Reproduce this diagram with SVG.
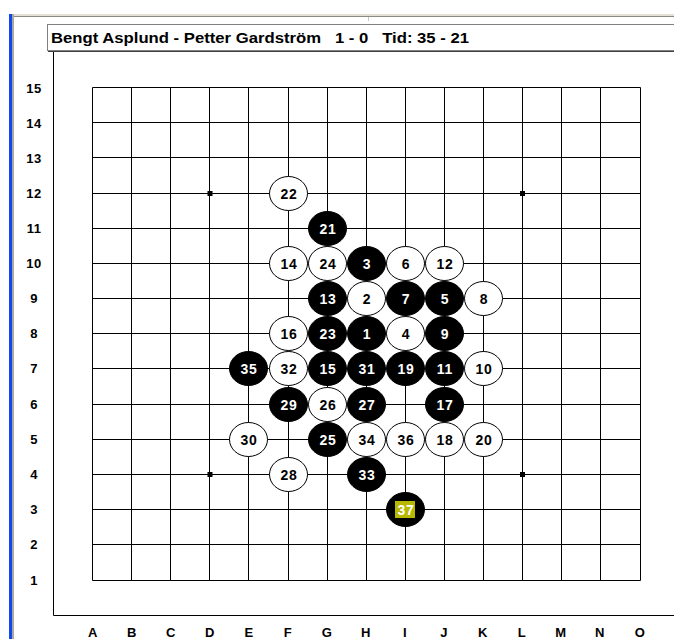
<svg xmlns="http://www.w3.org/2000/svg" width="674" height="639" viewBox="0 0 674 639">
<style>
.lbl{font-family:"Liberation Sans",Arial,sans-serif;font-weight:bold;font-size:13px;fill:#000;letter-spacing:0.5px}
.num{font-family:"Liberation Sans",Arial,sans-serif;font-weight:bold;font-size:14px;text-anchor:middle;letter-spacing:0.8px}
.w ellipse{fill:#fff;stroke:#000;stroke-width:1}
.w text{fill:#000}
.b ellipse{fill:#000;stroke:#000;stroke-width:1}
.b text{fill:#fff}
.grid line{stroke:#000;stroke-width:1}
</style>
<rect width="674" height="639" fill="#fff"/>
<!-- window chrome -->
<rect x="14" y="14" width="660" height="2" fill="#e4e1d4"/>
<rect x="14" y="16" width="660" height="1" fill="#8a8a80"/>
<line x1="368.5" y1="17" x2="368.5" y2="21" stroke="#c8c8c8"/>
<rect x="9" y="14" width="3" height="625" fill="#1048f0"/>
<rect x="12" y="14" width="2" height="625" fill="#a8a8a0"/>
<!-- title box -->
<rect x="47.5" y="24.5" width="640" height="26" fill="#fff" stroke="#808080"/>
<line x1="48" y1="51.5" x2="674" y2="51.5" stroke="#404040"/>
<text x="51" y="43" font-family="'Liberation Sans',Arial,sans-serif" font-weight="bold" font-size="14.5px" fill="#000" xml:space="preserve" textLength="418" lengthAdjust="spacingAndGlyphs">Bengt Asplund - Petter Gardström   1 - 0   Tid: 35 - 21</text>
<!-- panel -->
<polyline points="53.5,52 53.5,615.5 674,615.5" fill="none" stroke="#000"/>
<!-- row labels -->
<g class="lbl" text-anchor="middle">
<text x="34" y="93">15</text><text x="34" y="128">14</text><text x="34" y="163">13</text><text x="34" y="198">12</text><text x="34" y="233">11</text><text x="34" y="268">10</text><text x="34" y="303">9</text><text x="34" y="338">8</text><text x="34" y="373">7</text><text x="34" y="409">6</text><text x="34" y="444">5</text><text x="34" y="479">4</text><text x="34" y="514">3</text><text x="34" y="549">2</text><text x="34" y="585">1</text>
<text x="93" y="637">A</text><text x="132" y="637">B</text><text x="171" y="637">C</text><text x="210" y="637">D</text><text x="249" y="637">E</text><text x="288" y="637">F</text><text x="327" y="637">G</text><text x="366" y="637">H</text><text x="405" y="637">I</text><text x="444" y="637">J</text><text x="483" y="637">K</text><text x="522" y="637">L</text><text x="561" y="637">M</text><text x="600" y="637">N</text><text x="640" y="637">O</text>
</g>
<!-- grid -->
<g class="grid" id="connectors">
<line x1="92.5" y1="87.5" x2="640.5" y2="87.5"/><line x1="92.5" y1="122.5" x2="640.5" y2="122.5"/><line x1="92.5" y1="157.5" x2="640.5" y2="157.5"/><line x1="92.5" y1="193.5" x2="640.5" y2="193.5"/><line x1="92.5" y1="228.5" x2="640.5" y2="228.5"/><line x1="92.5" y1="263.5" x2="640.5" y2="263.5"/><line x1="92.5" y1="298.5" x2="640.5" y2="298.5"/><line x1="92.5" y1="333.5" x2="640.5" y2="333.5"/><line x1="92.5" y1="368.5" x2="640.5" y2="368.5"/><line x1="92.5" y1="404.5" x2="640.5" y2="404.5"/><line x1="92.5" y1="439.5" x2="640.5" y2="439.5"/><line x1="92.5" y1="474.5" x2="640.5" y2="474.5"/><line x1="92.5" y1="509.5" x2="640.5" y2="509.5"/><line x1="92.5" y1="544.5" x2="640.5" y2="544.5"/><line x1="92.5" y1="580.5" x2="640.5" y2="580.5"/>
<line x1="92.5" y1="87.5" x2="92.5" y2="580.5"/><line x1="131.5" y1="87.5" x2="131.5" y2="580.5"/><line x1="170.5" y1="87.5" x2="170.5" y2="580.5"/><line x1="209.5" y1="87.5" x2="209.5" y2="580.5"/><line x1="248.5" y1="87.5" x2="248.5" y2="580.5"/><line x1="288.5" y1="87.5" x2="288.5" y2="580.5"/><line x1="327.5" y1="87.5" x2="327.5" y2="580.5"/><line x1="366.5" y1="87.5" x2="366.5" y2="580.5"/><line x1="405.5" y1="87.5" x2="405.5" y2="580.5"/><line x1="444.5" y1="87.5" x2="444.5" y2="580.5"/><line x1="483.5" y1="87.5" x2="483.5" y2="580.5"/><line x1="522.5" y1="87.5" x2="522.5" y2="580.5"/><line x1="561.5" y1="87.5" x2="561.5" y2="580.5"/><line x1="600.5" y1="87.5" x2="600.5" y2="580.5"/><line x1="640.5" y1="87.5" x2="640.5" y2="580.5"/>
</g>
<g fill="#000">
<rect x="207.5" y="191" width="5" height="5"/><rect x="520" y="191" width="5" height="5"/><rect x="207.5" y="472" width="5" height="5"/><rect x="520" y="472" width="5" height="5"/>
</g>
<!-- stones -->
<g id="s22" class="w"><ellipse cx="288.5" cy="193.5" rx="19" ry="17"/><text class="num" x="289" y="198.5">22</text></g>
<g id="s21" class="b"><ellipse cx="327.5" cy="228.5" rx="19" ry="17"/><text class="num" x="328" y="233.5">21</text></g>
<g id="s14" class="w"><ellipse cx="288.5" cy="263.5" rx="19" ry="17"/><text class="num" x="289" y="268.5">14</text></g>
<g id="s24" class="w"><ellipse cx="327.5" cy="263.5" rx="19" ry="17"/><text class="num" x="328" y="268.5">24</text></g>
<g id="s3" class="b"><ellipse cx="366.5" cy="263.5" rx="19" ry="17"/><text class="num" x="367" y="268.5">3</text></g>
<g id="s6" class="w"><ellipse cx="405.5" cy="263.5" rx="19" ry="17"/><text class="num" x="406" y="268.5">6</text></g>
<g id="s12" class="w"><ellipse cx="444.5" cy="263.5" rx="19" ry="17"/><text class="num" x="445" y="268.5">12</text></g>
<g id="s13" class="b"><ellipse cx="327.5" cy="298.5" rx="19" ry="17"/><text class="num" x="328" y="303.5">13</text></g>
<g id="s2" class="w"><ellipse cx="366.5" cy="298.5" rx="19" ry="17"/><text class="num" x="367" y="303.5">2</text></g>
<g id="s7" class="b"><ellipse cx="405.5" cy="298.5" rx="19" ry="17"/><text class="num" x="406" y="303.5">7</text></g>
<g id="s5" class="b"><ellipse cx="444.5" cy="298.5" rx="19" ry="17"/><text class="num" x="445" y="303.5">5</text></g>
<g id="s8" class="w"><ellipse cx="483.5" cy="298.5" rx="19" ry="17"/><text class="num" x="484" y="303.5">8</text></g>
<g id="s16" class="w"><ellipse cx="288.5" cy="333.5" rx="19" ry="17"/><text class="num" x="289" y="338.5">16</text></g>
<g id="s23" class="b"><ellipse cx="327.5" cy="333.5" rx="19" ry="17"/><text class="num" x="328" y="338.5">23</text></g>
<g id="s1" class="b"><ellipse cx="366.5" cy="333.5" rx="19" ry="17"/><text class="num" x="367" y="338.5">1</text></g>
<g id="s4" class="w"><ellipse cx="405.5" cy="333.5" rx="19" ry="17"/><text class="num" x="406" y="338.5">4</text></g>
<g id="s9" class="b"><ellipse cx="444.5" cy="333.5" rx="19" ry="17"/><text class="num" x="445" y="338.5">9</text></g>
<g id="s35" class="b"><ellipse cx="248.5" cy="368.5" rx="19" ry="17"/><text class="num" x="249" y="373.5">35</text></g>
<g id="s32" class="w"><ellipse cx="288.5" cy="368.5" rx="19" ry="17"/><text class="num" x="289" y="373.5">32</text></g>
<g id="s15" class="b"><ellipse cx="327.5" cy="368.5" rx="19" ry="17"/><text class="num" x="328" y="373.5">15</text></g>
<g id="s31" class="b"><ellipse cx="366.5" cy="368.5" rx="19" ry="17"/><text class="num" x="367" y="373.5">31</text></g>
<g id="s19" class="b"><ellipse cx="405.5" cy="368.5" rx="19" ry="17"/><text class="num" x="406" y="373.5">19</text></g>
<g id="s11" class="b"><ellipse cx="444.5" cy="368.5" rx="19" ry="17"/><text class="num" x="445" y="373.5">11</text></g>
<g id="s10" class="w"><ellipse cx="483.5" cy="368.5" rx="19" ry="17"/><text class="num" x="484" y="373.5">10</text></g>
<g id="s29" class="b"><ellipse cx="288.5" cy="404.5" rx="19" ry="17"/><text class="num" x="289" y="409.5">29</text></g>
<g id="s26" class="w"><ellipse cx="327.5" cy="404.5" rx="19" ry="17"/><text class="num" x="328" y="409.5">26</text></g>
<g id="s27" class="b"><ellipse cx="366.5" cy="404.5" rx="19" ry="17"/><text class="num" x="367" y="409.5">27</text></g>
<g id="s17" class="b"><ellipse cx="444.5" cy="404.5" rx="19" ry="17"/><text class="num" x="445" y="409.5">17</text></g>
<g id="s30" class="w"><ellipse cx="248.5" cy="439.5" rx="19" ry="17"/><text class="num" x="249" y="444.5">30</text></g>
<g id="s25" class="b"><ellipse cx="327.5" cy="439.5" rx="19" ry="17"/><text class="num" x="328" y="444.5">25</text></g>
<g id="s34" class="w"><ellipse cx="366.5" cy="439.5" rx="19" ry="17"/><text class="num" x="367" y="444.5">34</text></g>
<g id="s36" class="w"><ellipse cx="405.5" cy="439.5" rx="19" ry="17"/><text class="num" x="406" y="444.5">36</text></g>
<g id="s18" class="w"><ellipse cx="444.5" cy="439.5" rx="19" ry="17"/><text class="num" x="445" y="444.5">18</text></g>
<g id="s20" class="w"><ellipse cx="483.5" cy="439.5" rx="19" ry="17"/><text class="num" x="484" y="444.5">20</text></g>
<g id="s28" class="w"><ellipse cx="288.5" cy="474.5" rx="19" ry="17"/><text class="num" x="289" y="479.5">28</text></g>
<g id="s33" class="b"><ellipse cx="366.5" cy="474.5" rx="19" ry="17"/><text class="num" x="367" y="479.5">33</text></g>
<g id="s37" class="b"><ellipse cx="405.5" cy="509.5" rx="19" ry="17"/><rect x="395" y="501" width="20" height="17" fill="#b8b800"/><text class="num" x="406" y="514.5">37</text></g>
</svg>
